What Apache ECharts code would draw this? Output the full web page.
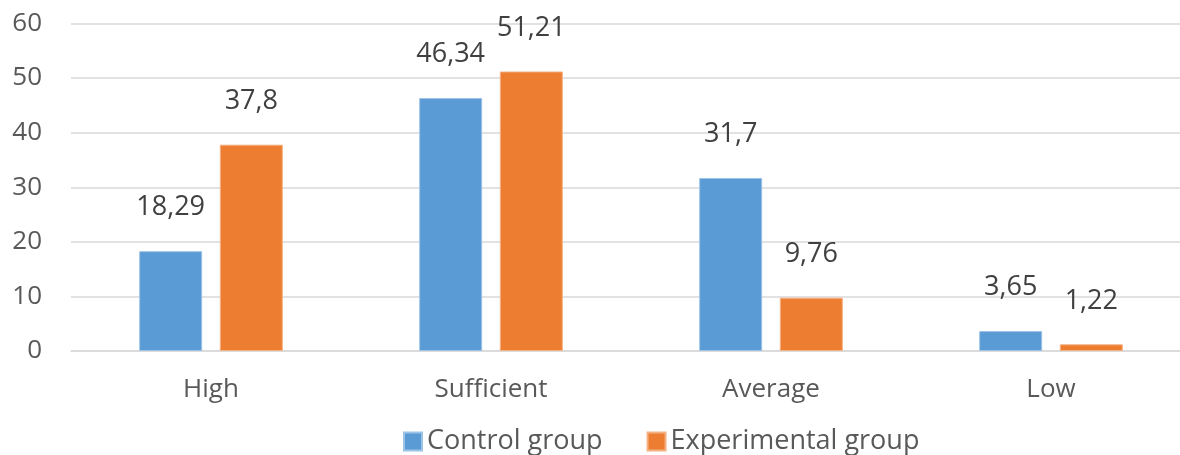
<!DOCTYPE html>
<html><head><meta charset="utf-8">
<script src="https://cdn.jsdelivr.net/npm/echarts@6/dist/echarts.min.js"></script>
<style>html,body{margin:0;padding:0;background:#fff;overflow:hidden;width:1180px;height:455px}#c{width:1191px;height:455px}</style>
</head><body><div id="c"></div>
<script>
const categories = ['High', 'Sufficient', 'Average', 'Low'];
const controlGroup = [18.29, 46.34, 31.7, 3.65];
const experimentalGroup = [37.8, 51.21, 9.76, 1.22];
const yTicks = [0, 10, 20, 30, 40, 50, 60];

const font = 'Open Sans';
const chart = echarts.init(document.getElementById('c'));
const labelCfg = {
  show: true, position: 'top', distance: 30,
  color: '#404040', fontSize: 27, fontFamily: font,
  formatter: p => String(p.value).replace('.', ',')
};
chart.setOption({
  animation: false,
  grid: { left: 71, right: 0, top: 23.5, bottom: 104 },
  legend: {
    top: 423, left: 398, itemWidth: 18, itemHeight: 18, itemGap: 44,
    icon: 'rect',
    textStyle: { color: '#595959', fontSize: 27, fontFamily: font },
    data: ['Control group', 'Experimental group']
  },
  xAxis: {
    type: 'category', data: categories,
    axisLine: { show: true, lineStyle: { color: '#D9D9D9', width: 1.5 } },
    axisTick: { show: false },
    axisLabel: { color: '#595959', fontSize: 26, fontFamily: font, margin: 26 }
  },
  yAxis: {
    type: 'value', min: yTicks[0], max: yTicks[yTicks.length - 1], interval: 10,
    axisLine: { show: false }, axisTick: { show: false },
    splitLine: { lineStyle: { color: '#D9D9D9', width: 1.5 } },
    axisLabel: { color: '#595959', fontSize: 26, fontFamily: font, margin: 29 }
  },
  series: [
    { name: 'Control group', type: 'bar', data: controlGroup, barWidth: 63, barGap: '28%',
      itemStyle: { color: '#5B9BD5', borderColor: '#9DC3E6', borderWidth: 1 }, label: labelCfg },
    { name: 'Experimental group', type: 'bar', data: experimentalGroup, barWidth: 63,
      itemStyle: { color: '#ED7D31', borderColor: '#F4B183', borderWidth: 1 }, label: labelCfg }
  ]
});
</script></body></html>
